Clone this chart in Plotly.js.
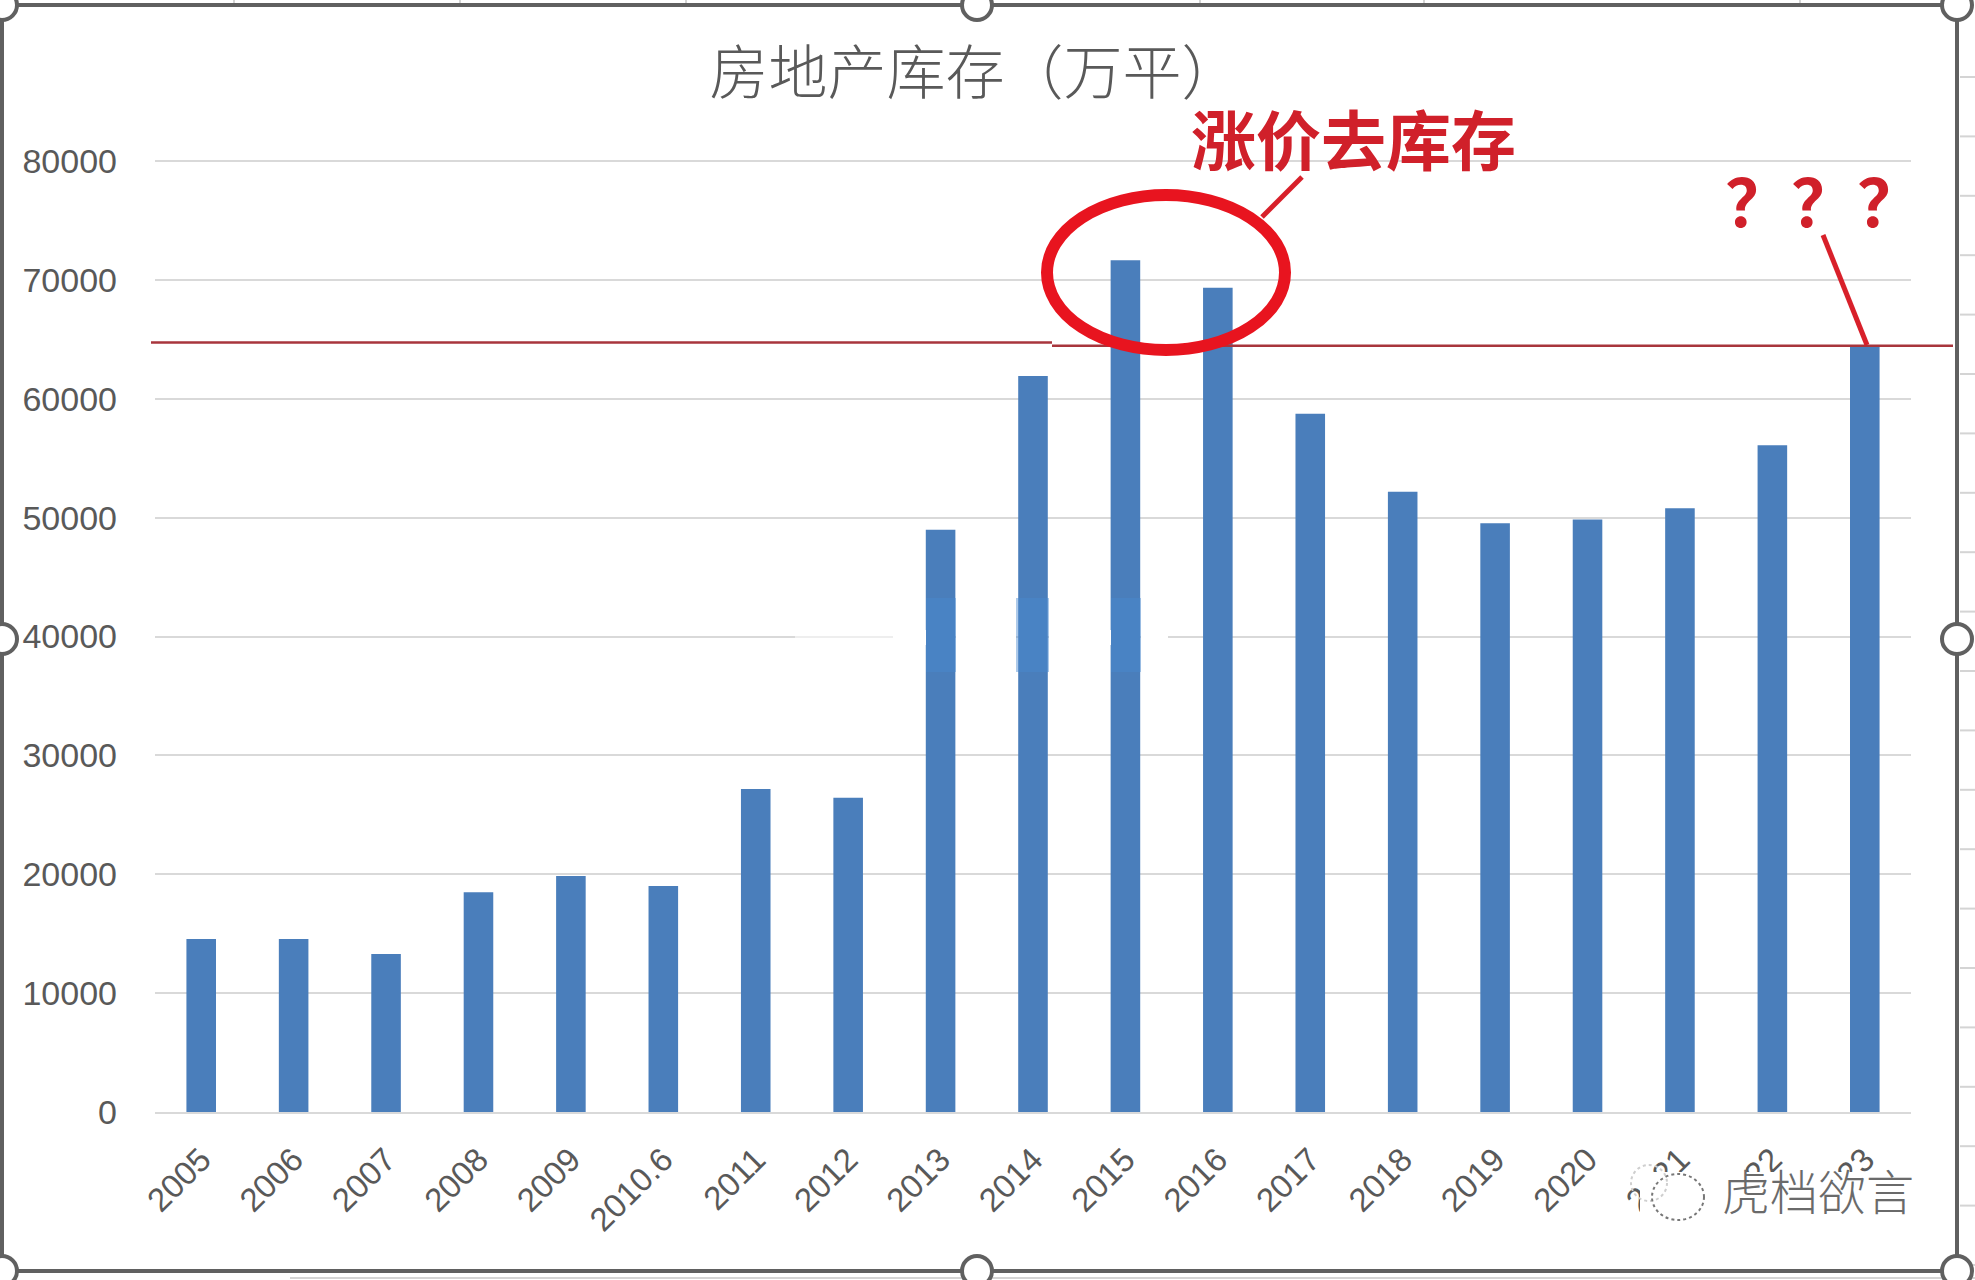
<!DOCTYPE html>
<html>
<head>
<meta charset="utf-8">
<script src="https://cdn.plot.ly/plotly-3.0.1.min.js"></script>
<style>html,body{margin:0;padding:0;background:#fff;overflow:hidden}</style>
</head>
<body>
<div id="chart" style="width:1975px;height:1280px"></div>
<script>
const categories = ["2005","2006","2007","2008","2009","2010.6","2011","2012","2013","2014","2015","2016","2017","2018","2019","2020","2021","2022","2023"];
const inventory = [14560,14560,13290,18480,19860,19010,27170,26430,48990,61920,71660,69330,58740,52170,49520,49840,50790,56090,64350];
const titleText = "房地产库存（万平）";
const noteText = "涨价去库存";
const questionText = "？？？";
const watermarkText = "虎档欲言";

const W = 1975, H = 1280, L = 155, R = 1911, T = 159, B = 1112;
const px = x => (x - L) / (R - L);
const py = y => (B - y) / (B - T);
const shape = (type, x0, y0, x1, y1, color, width, extra) => Object.assign({
  type, xref: "paper", yref: "paper",
  x0: px(x0), x1: px(x1), y0: py(y0), y1: py(y1),
  line: {color, width}
}, extra || {});
const rect = (x0, y0, x1, y1, fill, opacity) => shape("rect", x0, y0, x1, y1, "rgba(0,0,0,0)", 0,
  {fillcolor: fill, layer: "above", opacity: opacity === undefined ? 1 : opacity});

const shapes = [];
// gridline fades out and is erased between the blurred bars
shapes.push(rect(795, 630, 893, 645, "#ffffff", 0.55));
[[893, 926], [956, 1016], [1049, 1111], [1141, 1168]].forEach(g => shapes.push(rect(g[0], 630, g[1], 645, "#ffffff")));
// blurred stretch on three bars
[[926, 956], [1016, 1049], [1111, 1141]].forEach(b => shapes.push(rect(b[0], 598, b[1], 672, "#4a8ad0", 0.45)));
// reference lines
shapes.push(shape("line", 151, 342.6, 1052, 342.6, "#a8353c", 2.5));
shapes.push(shape("line", 1052, 345.7, 1953, 345.7, "#a8353c", 2.5));
// hand drawn marks
shapes.push(shape("circle", 1047, 195, 1285, 350, "#e8141f", 12));
shapes.push(shape("line", 1262, 217, 1302, 177, "#d8202a", 5));
shapes.push(shape("line", 1823, 235, 1867, 345, "#d8202a", 5));
// watermark erasing part of the tick labels
shapes.push(rect(1640, 1172, 1912, 1215, "#ffffff"));
shapes.push(shape("circle", 1631, 1165, 1667, 1201, "#cfcfcf", 2, {line: {color: "#cfcfcf", width: 2, dash: "dot"}}));
shapes.push(shape("circle", 1652, 1174, 1704, 1220, "#777777", 2, {line: {color: "#777777", width: 2, dash: "dot"}}));
// sheet grid outside the selected chart
for (let y = 77; y < 1270; y += 59.4) shapes.push(shape("line", 1960, y, 1975, y, "#d4d4d4", 2));
shapes.push(shape("line", 290, 1278, 1975, 1278, "#d4d4d4", 2));
[234, 460, 686, 976, 1200, 1424, 1800].forEach(x => shapes.push(shape("line", x, 0, x, 3, "#d4d4d4", 2)));
// selection frame
shapes.push(shape("rect", 2, 5, 1957, 1271, "#606060", 4));
[[2,5],[977,5],[1957,5],[2,639],[1957,639],[2,1271],[977,1271],[1957,1271]].forEach(p =>
  shapes.push(shape("circle", p[0]-15, p[1]-15, p[0]+15, p[1]+15, "#606060", 4, {fillcolor: "#ffffff"})));

const ann = (text, x, y, size, color, weight, font) => ({
  text, xref: "paper", yref: "paper", x: px(x), y: py(y), xanchor: "center", yanchor: "middle",
  showarrow: false, font: {size, color, weight: weight || 400, family: font || '"Noto Sans CJK SC"'}
});

const layout = {
  width: W, height: H, showlegend: false,
  paper_bgcolor: "#ffffff", plot_bgcolor: "#ffffff",
  margin: {l: L, r: W - R, t: T, b: H - B, pad: 0},
  title: {text: titleText, x: 975 / W, y: 1 - 73 / H, xref: "container", yref: "container", xanchor: "center", yanchor: "middle",
          font: {family: '"Noto Sans CJK SC"', size: 59, color: "#595959", weight: 300}},
  bargap: 0.68,
  xaxis: {type: "category", tickmode: "array", tickvals: categories, ticktext: categories, tickangle: -45,
          showgrid: false, showline: true, linecolor: "#d9d9d9", linewidth: 2, ticks: "", ticklabelstandoff: 13,
          tickfont: {family: '"Liberation Sans"', size: 33, color: "#595959"}},
  yaxis: {range: [0, 80168], tick0: 0, dtick: 10000, showgrid: true, gridcolor: "#d9d9d9", gridwidth: 2,
          zeroline: false, showline: false, ticks: "", ticklabelstandoff: 37, tickformat: "d",
          tickfont: {family: '"Liberation Sans"', size: 34, color: "#595959"}},
  shapes,
  annotations: [
    ann(noteText, 1353, 137, 65, "#d0202a", 700),
    ann(questionText, 1824, 198, 66, "#d0202a", 700),
    ann(watermarkText, 1818, 1189, 48, "#6a6a6a", 300)
  ]
};
Plotly.newPlot("chart", [{type: "bar", x: categories, y: inventory, marker: {color: "#4a7ebb"}, hoverinfo: "x+y"}], layout, {displayModeBar: false, responsive: false});
</script>
</body>
</html>
